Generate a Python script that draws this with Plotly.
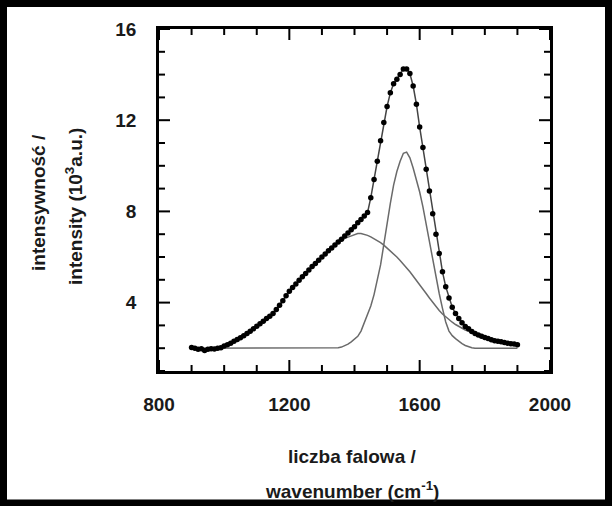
import plotly.graph_objects as go

# wavenumber grid (cm^-1), read every 10 cm^-1
wavenumber = list(range(900, 1901, 10))

# measured spectrum (10^3 a.u.)
measured = [
    2.03, 2.00, 1.95, 1.98, 1.90, 1.95, 1.98, 1.96, 2.00, 2.02,   # 900-990
    2.10, 2.15, 2.22, 2.30, 2.38, 2.46, 2.55, 2.64, 2.74, 2.85,   # 1000-1090
    2.96, 3.07, 3.18, 3.30, 3.40, 3.52, 3.70, 3.88, 4.08, 4.30,   # 1100-1190
    4.50, 4.66, 4.82, 4.98, 5.13, 5.28, 5.43, 5.58, 5.72, 5.86,   # 1200-1290
    6.00, 6.13, 6.27, 6.40, 6.53, 6.66, 6.78, 6.92, 7.05, 7.20,   # 1300-1390
    7.33, 7.50, 7.65, 7.80, 7.95, 8.60, 9.40, 10.20, 11.10, 11.90, # 1400-1490
    12.60, 13.20, 13.60, 13.80, 14.00, 14.25, 14.25, 14.05, 13.50, 12.70,  # 1500-1590
    11.70, 10.80, 9.85, 8.90, 7.90, 7.00, 6.15, 5.35, 4.70, 4.20,  # 1600-1690
    3.80, 3.52, 3.30, 3.12, 2.95, 2.85, 2.73, 2.65, 2.58, 2.52,   # 1700-1790
    2.47, 2.42, 2.37, 2.33, 2.30, 2.28, 2.25, 2.22, 2.20, 2.18,   # 1800-1890
    2.15,                                                         # 1900
]

# broad fitted component
broad_band = [
    2.03, 2.00, 1.97, 1.97, 1.95, 1.95, 1.97, 1.97, 2.00, 2.02,   # 900-990
    2.10, 2.15, 2.22, 2.30, 2.38, 2.46, 2.55, 2.64, 2.74, 2.85,   # 1000-1090
    2.96, 3.07, 3.18, 3.30, 3.40, 3.52, 3.70, 3.88, 4.08, 4.30,   # 1100-1190
    4.50, 4.66, 4.82, 4.98, 5.13, 5.28, 5.43, 5.58, 5.72, 5.86,   # 1200-1290
    6.00, 6.13, 6.27, 6.40, 6.52, 6.64, 6.73, 6.82, 6.87, 6.92,   # 1300-1390
    7.00, 7.03, 7.03, 7.00, 6.95, 6.88, 6.80, 6.72, 6.63, 6.52,   # 1400-1490
    6.40, 6.28, 6.14, 6.00, 5.85, 5.70, 5.52, 5.35, 5.17, 4.98,   # 1500-1590
    4.80, 4.60, 4.40, 4.20, 4.00, 3.82, 3.65, 3.50, 3.37, 3.25,   # 1600-1690
    3.14, 3.04, 2.95, 2.87, 2.80, 2.74, 2.68, 2.62, 2.56, 2.51,   # 1700-1790
    2.46, 2.42, 2.37, 2.33, 2.30, 2.28, 2.25, 2.22, 2.20, 2.18,   # 1800-1890
    2.15,                                                         # 1900
]

# narrow fitted component
narrow_band = [
    2.00, 2.00, 2.00, 2.00, 2.00, 2.00, 2.00, 2.00, 2.00, 2.00,   # 900-990
    2.00, 2.00, 2.00, 2.00, 2.00, 2.00, 2.00, 2.00, 2.00, 2.00,   # 1000-1090
    2.00, 2.00, 2.00, 2.00, 2.00, 2.00, 2.00, 2.00, 2.00, 2.00,   # 1100-1190
    2.00, 2.00, 2.00, 2.00, 2.00, 2.00, 2.00, 2.00, 2.00, 2.00,   # 1200-1290
    2.00, 2.00, 2.00, 2.00, 2.00, 2.02, 2.05, 2.10, 2.18, 2.28,   # 1300-1390
    2.40, 2.52, 2.75, 3.10, 3.45, 3.85, 4.35, 4.95, 5.65, 6.55,   # 1400-1490
    7.50, 8.35, 9.15, 9.75, 10.20, 10.55, 10.60, 10.35, 9.90, 9.40,  # 1500-1590
    8.85, 8.20, 7.45, 6.60, 5.80, 5.05, 4.40, 3.75, 3.15, 2.75,   # 1600-1690
    2.55, 2.42, 2.30, 2.20, 2.12, 2.06, 2.02, 2.00, 2.00, 2.00,   # 1700-1790
    2.00, 2.00, 2.00, 2.00, 2.00, 2.00, 2.00, 2.00, 2.00, 2.00,   # 1800-1890
    2.00,                                                         # 1900
]

x_ticks = [800, 1200, 1600, 2000]
y_ticks = [4, 8, 12, 16]
x_minor_step = 100
y_minor_step = 1
x_range = [800, 2000]
y_range = [1, 16]

W, H = 613, 506
L, R, T, B = 159, 63, 29, 135
PW, PH = W - L - R, H - T - B
MAJOR_LEN, MINOR_LEN = 11, 6

def px(xp):
    return (xp - L) / PW

def py(yp):
    return (H - B - yp) / PH

FONT = "Arial, Liberation Sans, sans-serif"
GRAY = "#6a6a6a"

fig = go.Figure()
fig.add_trace(go.Scatter(x=wavenumber, y=narrow_band, mode="lines",
                         line=dict(color=GRAY, width=1.5), hoverinfo="skip"))
fig.add_trace(go.Scatter(x=wavenumber, y=broad_band, mode="lines",
                         line=dict(color=GRAY, width=1.5), hoverinfo="skip"))
fig.add_trace(go.Scatter(x=wavenumber, y=measured, mode="lines+markers",
                         line=dict(color="#444444", width=1.5),
                         marker=dict(color="black", size=5.5)))

tick_font = dict(family=FONT, size=19, color="#1a1a1a", weight="bold")
fig.update_layout(
    xaxis=dict(range=x_range, tickvals=x_ticks, ticktext=[str(v) for v in x_ticks],
               ticks="", showgrid=False, zeroline=False, showline=True,
               linecolor="black", linewidth=2.5, mirror=True,
               tickfont=tick_font, ticklabelstandoff=14),
    yaxis=dict(range=y_range, tickvals=y_ticks, ticktext=[str(v) for v in y_ticks],
               ticks="", showgrid=False, zeroline=False, showline=True,
               linecolor="black", linewidth=2.5, mirror=True,
               tickfont=tick_font, ticklabelstandoff=16),
)

# inward tick marks on all four sides, positioned through the axis scales
tick_line = dict(color="black", width=2)
shapes = []
x_minor_vals = list(range(x_ticks[0], x_ticks[-1] + 1, x_minor_step))
for xv in x_minor_vals:
    ln = MAJOR_LEN if xv in x_ticks else MINOR_LEN
    for y0, y1 in [(0, ln / PH), (1, 1 - ln / PH)]:
        shapes.append(dict(type="line", xref="x", yref="y domain", x0=xv, x1=xv,
                           y0=y0, y1=y1, line=tick_line, layer="above"))
y_minor_vals = list(range(y_range[0], y_range[1] + 1, y_minor_step))
for yv in y_minor_vals:
    ln = MAJOR_LEN if yv in y_ticks else MINOR_LEN
    for x0, x1 in [(0, ln / PW), (1, 1 - ln / PW)]:
        shapes.append(dict(type="line", xref="x domain", yref="y", x0=x0, x1=x1,
                           y0=yv, y1=yv, line=tick_line, layer="above"))
# outer black frame of the picture
shapes.append(dict(type="rect", xref="paper", yref="paper",
                   x0=px(3.5), x1=px(W - 4.5), y0=py(3.5), y1=py(H - 3),
                   line=dict(color="black", width=7), fillcolor="rgba(0,0,0,0)",
                   layer="above"))

title_font = dict(family=FONT, size=19, color="#1a1a1a", weight="bold")
ann = [
    dict(text="intensywność /", x=px(38), y=py(203), textangle=-90),
    dict(text="intensity (10<sup>3</sup>a.u.)", x=px(74), y=py(207), textangle=-90),
    dict(text="liczba falowa /", x=px(352), y=py(456), textangle=0),
    dict(text="wavenumber (cm<sup>-1</sup>)", x=px(352), y=py(490), textangle=0),
]
fig.update_layout(
    annotations=[dict(xref="paper", yref="paper", showarrow=False, font=title_font,
                      xanchor="center", yanchor="middle", **a) for a in ann],
    shapes=shapes,
    width=W, height=H, margin=dict(l=L, r=R, t=T, b=B, autoexpand=False),
    paper_bgcolor="white", plot_bgcolor="white", showlegend=False,
)

fig.write_html("out.html", config={"displayModeBar": False},
               post_script="document.body.style.margin='0';document.body.style.overflow='hidden';")
